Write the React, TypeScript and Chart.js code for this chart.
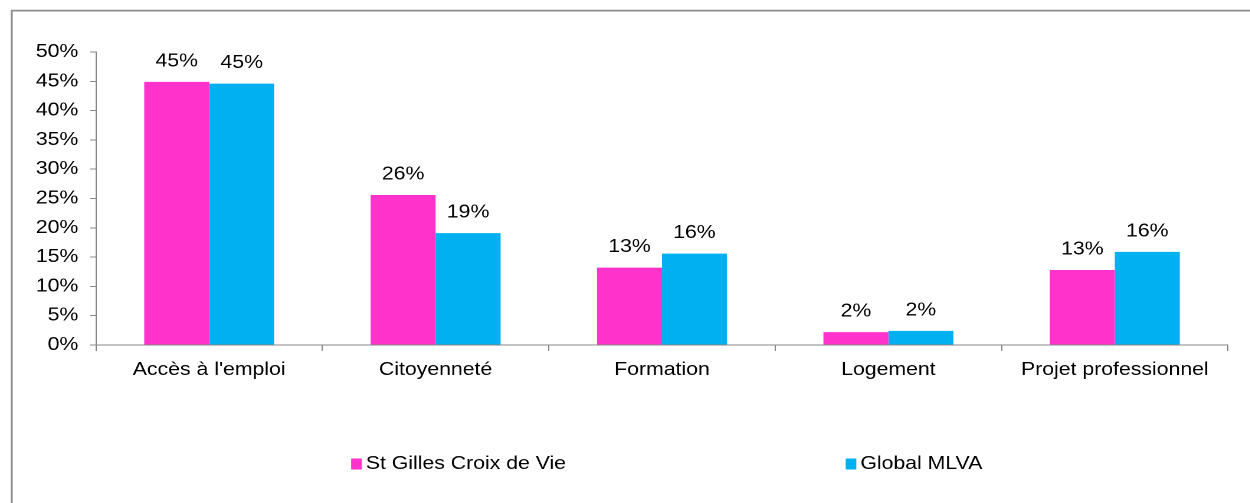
import React, { useEffect, useRef } from "react";
import { Chart, registerables } from "chart.js";

Chart.register(...registerables);

const categories = ["Accès à l'emploi", "Citoyenneté", "Formation", "Logement", "Projet professionnel"];
const seriesNames = ["St Gilles Croix de Vie", "Global MLVA"];
const stGilles = [44.9, 25.6, 13.2, 2.2, 12.8];
const globalMLVA = [44.6, 19.1, 15.6, 2.4, 15.9];
const seriesColors = ["#FF33CC", "#00B0F0"];
const yMax = 50;
const yStep = 5;

const SX = 1.18;
const W = Math.round(1250 / SX);
const H = 503;
const FONT_FAMILY = "'Liberation Sans', Arial, sans-serif";
const AXIS_COLOR = "#868686";

const framePlugin = {
  id: "frame",
  afterDraw(chart: any) {
    const ctx = chart.ctx;
    ctx.save();
    ctx.strokeStyle = "#8c8c8c";
    ctx.lineWidth = 1.7;
    ctx.beginPath();
    ctx.moveTo(9.9, H);
    ctx.lineTo(9.9, 10.6);
    ctx.lineTo(W, 10.6);
    ctx.stroke();
    ctx.restore();
  },
};

const dataLabelPlugin = {
  id: "dataLabels",
  afterDatasetsDraw(chart: any) {
    const ctx = chart.ctx;
    ctx.save();
    ctx.font = `18px ${FONT_FAMILY}`;
    ctx.fillStyle = "#000";
    ctx.textAlign = "center";
    ctx.textBaseline = "alphabetic";
    chart.data.datasets.forEach((ds: any, i: number) => {
      const meta = chart.getDatasetMeta(i);
      meta.data.forEach((bar: any, j: number) => {
        const v = ds.data[j];
        ctx.fillText(`${Math.round(v)}%`, bar.x, bar.y - 15.5);
      });
    });
    ctx.restore();
  },
};

const legendPlugin = {
  id: "customLegend",
  afterDraw(chart: any) {
    const ctx = chart.ctx;
    const area = chart.chartArea;
    ctx.save();
    ctx.font = `18px ${FONT_FAMILY}`;
    const boxW = 9;
    const boxH = 11;
    const gap = 3.4;
    const spacing = 237;
    const widths = seriesNames.map((n) => ctx.measureText(n).width);
    let total = 0;
    widths.forEach((w, i) => {
      total += boxW + gap + w;
      if (i < widths.length - 1) total += spacing;
    });
    let x = (area.left + area.right) / 2 + 4 - total / 2;
    const yMid = 464;
    ctx.textBaseline = "middle";
    ctx.textAlign = "left";
    seriesNames.forEach((n, i) => {
      ctx.fillStyle = seriesColors[i];
      ctx.fillRect(x, yMid - boxH / 2, boxW, boxH);
      x += boxW + gap;
      ctx.fillStyle = "#000";
      ctx.fillText(n, x, yMid);
      x += widths[i] + spacing;
    });
    ctx.restore();
  },
};

export default function App() {
  const canvasRef = useRef<HTMLCanvasElement | null>(null);

  useEffect(() => {
    if (!canvasRef.current) return;
    const chart = new Chart(canvasRef.current, {
      type: "bar",
      data: {
        labels: categories,
        datasets: [
          {
            label: seriesNames[0],
            data: stGilles,
            backgroundColor: seriesColors[0],
            categoryPercentage: 0.574,
            barPercentage: 1,
          },
          {
            label: seriesNames[1],
            data: globalMLVA,
            backgroundColor: seriesColors[1],
            categoryPercentage: 0.574,
            barPercentage: 1,
          },
        ],
      },
      options: {
        responsive: false,
        animation: false,
        devicePixelRatio: 2,
        layout: { padding: { top: 52, right: W - 1228 / SX, left: 0, bottom: 0 } },
        plugins: {
          legend: { display: false },
          tooltip: { enabled: false },
        },
        scales: {
          x: {
            grid: {
              display: true,
              drawOnChartArea: false,
              drawTicks: true,
              tickLength: 6,
              color: AXIS_COLOR,
              offset: true,
            },
            border: { display: true, color: AXIS_COLOR, width: 1 },
            ticks: {
              color: "#000",
              font: { family: FONT_FAMILY, size: 18 },
              padding: 8,
              maxRotation: 0,
              autoSkip: false,
            },
            afterFit(scale: any) {
              scale.height = H - 345;
            },
          },
          y: {
            min: 0,
            max: yMax,
            grid: {
              display: true,
              drawOnChartArea: false,
              drawTicks: true,
              tickLength: 5,
              color: AXIS_COLOR,
            },
            border: { display: true, color: AXIS_COLOR, width: 1 },
            ticks: {
              stepSize: yStep,
              color: "#000",
              font: { family: FONT_FAMILY, size: 18 },
              padding: 10,
              callback: (v: any) => `${v}%`,
            },
            afterFit(scale: any) {
              scale.width = 96 / SX;
            },
          },
        },
      },
      plugins: [dataLabelPlugin, legendPlugin, framePlugin],
    });
    return () => chart.destroy();
  }, []);

  return (
    <div
      style={{
        position: "fixed",
        left: 0,
        top: 0,
        width: 1250,
        height: H,
        overflow: "hidden",
        background: "#fff",
      }}
    >
      <div style={{ transform: `scaleX(${SX})`, transformOrigin: "0 0", width: W, height: H }}>
        <canvas ref={canvasRef} width={W} height={H} />
      </div>
    </div>
  );
}
